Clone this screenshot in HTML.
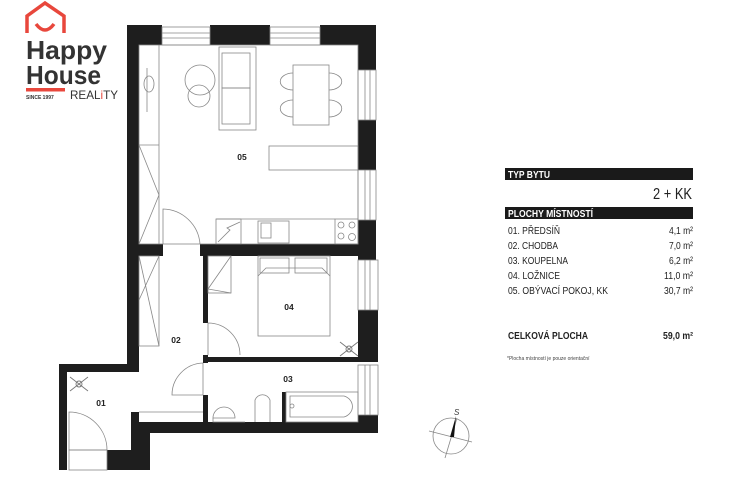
<!DOCTYPE html>
<html><head><meta charset="utf-8"><style>
html,body{margin:0;padding:0;background:#fff;width:740px;height:493px;overflow:hidden}
svg{display:block}
text{font-family:"Liberation Sans",Arial,sans-serif}
</style></head><body>
<svg width="740" height="493" viewBox="0 0 740 493" xmlns="http://www.w3.org/2000/svg">
<!-- logo -->
<path d="M27 33 V16 L45 3 L64 16 V33" fill="none" stroke="#e8473c" stroke-width="3.5"/>
<path d="M36 24 Q45 36 54 24" fill="none" stroke="#e8473c" stroke-width="3.5"/>
<text x="26" y="59" font-size="26" font-weight="bold" fill="#333" textLength="81" lengthAdjust="spacingAndGlyphs">Happy</text>
<text x="26" y="84" font-size="26" font-weight="bold" fill="#333" textLength="75" lengthAdjust="spacingAndGlyphs">House</text>
<rect x="26" y="88" width="39" height="3.5" fill="#e8473c"/>
<text x="26" y="99" font-size="5" font-weight="bold" fill="#333">SINCE 1997</text>
<text x="70" y="99" font-size="12" fill="#333" textLength="48" lengthAdjust="spacingAndGlyphs">REAL<tspan fill="#e8473c">i</tspan>TY</text>

<!-- walls -->
<g fill="#1e1e1e">
<rect x="127" y="25" width="35" height="20"/>
<rect x="210" y="25" width="60" height="20"/>
<rect x="320" y="25" width="56" height="20"/>
<rect x="358" y="25" width="18" height="45"/>
<rect x="358" y="120" width="18" height="50"/>
<rect x="358" y="220" width="18" height="40"/>
<rect x="358" y="310" width="20" height="52"/>
<rect x="358" y="415" width="20" height="18"/>
<rect x="127" y="25" width="12" height="340"/>
<rect x="127" y="244" width="36" height="12"/>
<rect x="200" y="244" width="170" height="12"/>
<rect x="203" y="244" width="5" height="79"/>
<rect x="203" y="355" width="5" height="8"/>
<rect x="203" y="395" width="5" height="38"/>
<rect x="208" y="357" width="150" height="5"/>
<rect x="282" y="392" width="4" height="30"/>
<rect x="137" y="422" width="241" height="11"/>
<rect x="131" y="412" width="8" height="20"/>
<rect x="131" y="430" width="19" height="40"/>
<rect x="107" y="450" width="43" height="20"/>
<rect x="59" y="364" width="80" height="8"/>
<rect x="59" y="364" width="8" height="106"/>
</g>
<g fill="none" stroke="#888" stroke-width="0.8">
<!-- windows -->
<rect x="162" y="27" width="48" height="18"/><line x1="162" y1="33" x2="210" y2="33"/><line x1="162" y1="38" x2="210" y2="38"/>
<rect x="270" y="27" width="50" height="18"/><line x1="270" y1="33" x2="320" y2="33"/><line x1="270" y1="38" x2="320" y2="38"/>
<rect x="358" y="70" width="18" height="50"/><line x1="365" y1="70" x2="365" y2="120"/><line x1="370" y1="70" x2="370" y2="120"/>
<rect x="358" y="170" width="18" height="50"/><line x1="365" y1="170" x2="365" y2="220"/><line x1="370" y1="170" x2="370" y2="220"/>
<rect x="358" y="260" width="20" height="50"/><line x1="365" y1="260" x2="365" y2="310"/><line x1="370" y1="260" x2="370" y2="310"/>
<rect x="358" y="365" width="20" height="50"/><line x1="365" y1="365" x2="365" y2="415"/><line x1="370" y1="365" x2="370" y2="415"/>
<rect x="69" y="450" width="38" height="20"/>
<!-- room 05 furniture -->
<rect x="139" y="45" width="219" height="199"/>
<line x1="159" y1="45" x2="159" y2="244"/>
<line x1="139" y1="145" x2="159" y2="145"/><line x1="139" y1="145" x2="159" y2="195"/><line x1="159" y1="195" x2="139" y2="244"/>
<ellipse cx="149" cy="84" rx="5" ry="8"/><line x1="147" y1="68" x2="147" y2="112"/>
<circle cx="200" cy="80" r="15"/><circle cx="199" cy="96" r="11"/>
<rect x="219" y="47" width="37" height="83"/><rect x="222" y="53" width="28" height="35"/><rect x="222" y="88" width="28" height="36"/>
<rect x="293" y="65" width="36" height="60"/>
<path d="M293 73 a12 8 0 0 0 0 17 M329 73 a12 8 0 0 1 0 17 M293 100 a12 8 0 0 0 0 17 M329 100 a12 8 0 0 1 0 17"/>
<rect x="269" y="146" width="89" height="24"/>
<path d="M163 244 V209 A38 38 0 0 1 200 244"/>
<rect x="216" y="219" width="25" height="25"/><path d="M218 242 L230 230 L227 228 L240 222"/>
<rect x="258" y="221" width="31" height="22"/><rect x="261" y="223" width="10" height="15"/>
<rect x="335" y="219" width="23" height="25"/>
<circle cx="341" cy="225" r="3"/><circle cx="352" cy="225" r="3"/><circle cx="341" cy="236" r="3"/><circle cx="352" cy="237" r="3.5"/>
<line x1="216" y1="219" x2="335" y2="219"/>
<!-- 02 wardrobe -->
<rect x="139" y="256" width="20" height="90"/><line x1="139" y1="256" x2="159" y2="346"/><line x1="159" y1="256" x2="139" y2="300"/>
<line x1="139" y1="412" x2="203" y2="412"/>
<path d="M203 363 V395 L172 395 A32 32 0 0 1 203 363"/>
<!-- 04 -->
<rect x="208" y="256" width="23" height="37"/><path d="M231 256 L208 289 L231 293"/>
<path d="M208 355 V323 A32 32 0 0 1 240 355"/>
<rect x="258" y="256" width="72" height="80"/><rect x="260" y="258" width="29" height="15"/><rect x="295" y="258" width="32" height="15"/>
<path d="M258 276 L266 268 H322 L330 276"/>
<!-- 03 -->
<path d="M213 418 A10 10 0 0 1 235 418 Z"/><path d="M213 418 V422 H245"/>
<path d="M255 422 V400 A8 8 0 0 1 270 400 V422"/>
<rect x="286" y="392" width="72" height="30"/><path d="M290 417 V396 H344 A12 11 0 0 1 344 417 Z"/><circle cx="292" cy="406" r="2"/>
<!-- 01 door -->
<path d="M69 412 A38 38 0 0 1 107 450 L69 450 Z"/>
<!-- compass -->
<circle cx="451" cy="436" r="18"/>
<line x1="429" y1="431" x2="472" y2="442"/>
<line x1="445" y1="458" x2="457" y2="418"/>
</g>
<path d="M456 416 L450 437 L454 437 Z" fill="#111"/>
<text x="454" y="415" font-size="8" fill="#333" font-style="italic">S</text>
<!-- fans -->
<g fill="none" stroke="#777" stroke-width="0.9">
<path d="M70 377 L88 391 M88 377 L70 391"/><circle cx="79" cy="384" r="3"/>
<path d="M340 342 L358 356 M358 342 L340 356"/><circle cx="349" cy="349" r="3"/>
</g>
<!-- room labels -->
<g font-size="8.5" font-weight="bold" fill="#222" text-anchor="middle">
<text x="242" y="160">05</text><text x="289" y="310">04</text><text x="176" y="343">02</text>
<text x="288" y="382">03</text><text x="101" y="406">01</text>
</g>
<!-- table -->
<rect x="505" y="168" width="188" height="12" fill="#1a1a1a"/>
<text x="508" y="178" font-size="10" font-weight="bold" fill="#fff" textLength="42" lengthAdjust="spacingAndGlyphs">TYP BYTU</text>
<text x="653" y="199" font-size="16" fill="#222" textLength="39" lengthAdjust="spacingAndGlyphs">2 + KK</text>
<rect x="505" y="207" width="188" height="12" fill="#1a1a1a"/>
<text x="508" y="217" font-size="10" font-weight="bold" fill="#fff" textLength="85" lengthAdjust="spacingAndGlyphs">PLOCHY MÍSTNOSTÍ</text>
<g font-size="10" fill="#222">
<text x="508" y="234" textLength="52" lengthAdjust="spacingAndGlyphs">01. PŘEDSÍŇ</text>
<text x="508" y="249" textLength="50" lengthAdjust="spacingAndGlyphs">02. CHODBA</text>
<text x="508" y="264" textLength="60" lengthAdjust="spacingAndGlyphs">03. KOUPELNA</text>
<text x="508" y="279" textLength="52" lengthAdjust="spacingAndGlyphs">04. LOŽNICE</text>
<text x="508" y="294" textLength="100" lengthAdjust="spacingAndGlyphs">05. OBÝVACÍ POKOJ, KK</text>
</g>
<g font-size="10" fill="#222">
<text x="669" y="234" textLength="24" lengthAdjust="spacingAndGlyphs">4,1 m²</text>
<text x="669" y="249" textLength="24" lengthAdjust="spacingAndGlyphs">7,0 m²</text>
<text x="669" y="264" textLength="24" lengthAdjust="spacingAndGlyphs">6,2 m²</text>
<text x="664" y="279" textLength="29" lengthAdjust="spacingAndGlyphs">11,0 m²</text>
<text x="664" y="294" textLength="29" lengthAdjust="spacingAndGlyphs">30,7 m²</text>
</g>
<text x="508" y="339" font-size="10" font-weight="bold" fill="#222" textLength="80" lengthAdjust="spacingAndGlyphs">CELKOVÁ PLOCHA</text>
<text x="663" y="339" font-size="10" font-weight="bold" fill="#222" textLength="30" lengthAdjust="spacingAndGlyphs">59,0 m²</text>
<text x="507" y="360" font-size="5" fill="#444">*Plocha místností je pouze orientační</text>
</svg>
</body></html>
